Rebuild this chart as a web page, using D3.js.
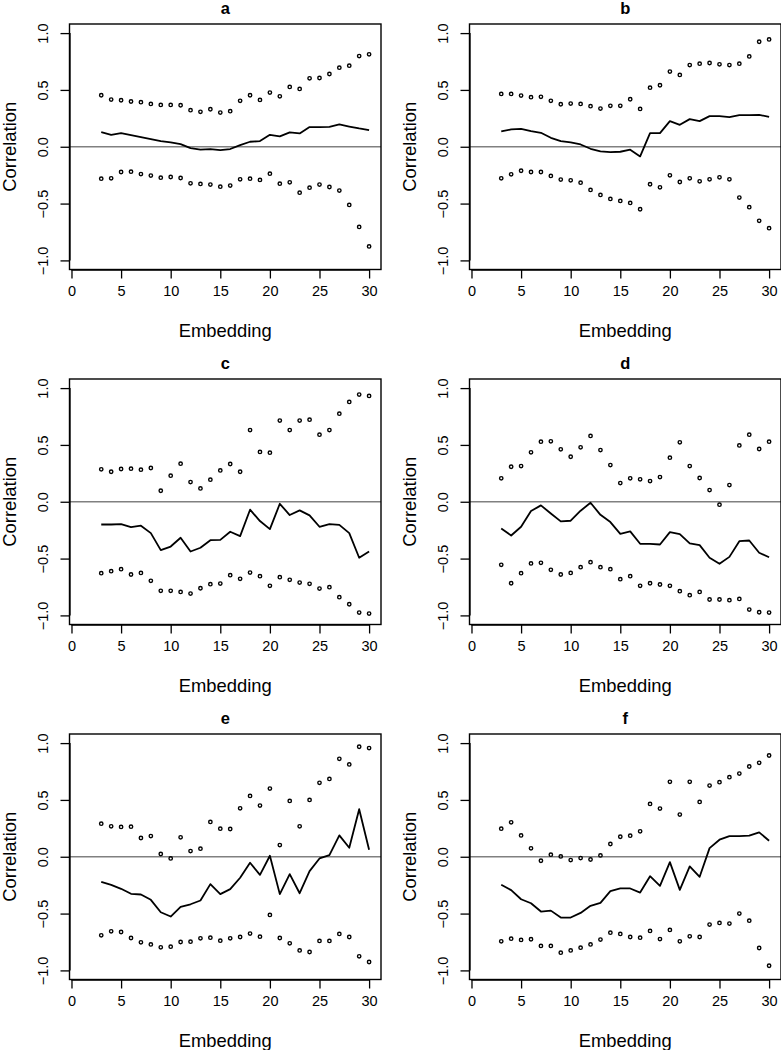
<!DOCTYPE html>
<html>
<head>
<meta charset="utf-8">
<script src="https://cdn.jsdelivr.net/npm/d3@7"></script>
<style>
  html, body { margin: 0; padding: 0; background: #fff; }
  svg { display: block; }
  text { font-family: "Liberation Sans", Arial, Helvetica, sans-serif; fill: #000; }
</style>
</head>
<body>
<svg id="chart" width="781" height="1050"></svg>
<script>
const embedding = [3,4,5,6,7,8,9,10,11,12,13,14,15,16,17,18,19,20,21,22,23,24,25,26,27,28,29,30];
const xTicks = [0,5,10,15,20,25,30];
const yTicks = [-1.0,-0.5,0.0,0.5,1.0];
const yTickLabels = ["\u22121.0","\u22120.5","0.0","0.5","1.0"];
const panelLabels = ["a","b","c","d","e","f"];

const aUpper = [0.453,0.415,0.409,0.398,0.392,0.377,0.368,0.368,0.365,0.322,0.307,0.330,0.301,0.313,0.404,0.453,0.412,0.477,0.444,0.526,0.509,0.602,0.605,0.640,0.696,0.713,0.798,0.813];
const aLower = [-0.281,-0.278,-0.222,-0.219,-0.240,-0.254,-0.272,-0.266,-0.275,-0.322,-0.327,-0.333,-0.351,-0.342,-0.287,-0.281,-0.292,-0.237,-0.325,-0.313,-0.404,-0.360,-0.333,-0.354,-0.386,-0.512,-0.705,-0.877];
const aCorr  = [0.129,0.105,0.120,0.102,0.085,0.067,0.050,0.038,0.023,-0.012,-0.026,-0.020,-0.029,-0.020,0.015,0.044,0.050,0.105,0.091,0.126,0.117,0.173,0.173,0.175,0.196,0.178,0.161,0.146];

const bUpper = [0.465,0.465,0.450,0.436,0.439,0.404,0.374,0.380,0.377,0.357,0.336,0.360,0.360,0.418,0.333,0.520,0.541,0.661,0.632,0.719,0.731,0.737,0.725,0.719,0.731,0.795,0.924,0.944];
const bLower = [-0.278,-0.243,-0.211,-0.222,-0.222,-0.257,-0.289,-0.295,-0.316,-0.380,-0.424,-0.459,-0.477,-0.494,-0.550,-0.330,-0.357,-0.251,-0.310,-0.278,-0.304,-0.287,-0.269,-0.287,-0.447,-0.532,-0.652,-0.716];
const bCorr  = [0.135,0.152,0.158,0.137,0.123,0.079,0.050,0.038,0.020,-0.018,-0.041,-0.047,-0.044,-0.026,-0.085,0.120,0.120,0.225,0.193,0.243,0.225,0.269,0.269,0.260,0.278,0.278,0.281,0.263];

const cUpper = [0.285,0.264,0.288,0.291,0.282,0.297,0.097,0.229,0.335,0.173,0.117,0.194,0.276,0.332,0.264,0.631,0.438,0.432,0.714,0.631,0.714,0.722,0.590,0.631,0.775,0.878,0.943,0.931];
const cLower = [-0.628,-0.611,-0.593,-0.640,-0.626,-0.696,-0.784,-0.784,-0.793,-0.808,-0.761,-0.725,-0.720,-0.646,-0.678,-0.623,-0.655,-0.740,-0.664,-0.687,-0.711,-0.722,-0.764,-0.752,-0.840,-0.902,-0.975,-0.984];
const cCorr  = [-0.200,-0.200,-0.197,-0.223,-0.211,-0.276,-0.426,-0.394,-0.317,-0.438,-0.405,-0.338,-0.335,-0.264,-0.302,-0.070,-0.170,-0.241,-0.018,-0.117,-0.076,-0.120,-0.220,-0.197,-0.203,-0.276,-0.493,-0.438];

const dUpper = [0.206,0.308,0.314,0.435,0.529,0.532,0.461,0.396,0.479,0.579,0.455,0.323,0.164,0.206,0.197,0.182,0.217,0.388,0.523,0.314,0.209,0.103,-0.026,0.147,0.496,0.590,0.464,0.529];
const dLower = [-0.555,-0.717,-0.628,-0.543,-0.537,-0.599,-0.640,-0.626,-0.576,-0.532,-0.576,-0.593,-0.681,-0.655,-0.740,-0.717,-0.728,-0.740,-0.787,-0.822,-0.793,-0.860,-0.860,-0.866,-0.855,-0.949,-0.972,-0.975];
const dCorr  = [-0.235,-0.297,-0.220,-0.082,-0.032,-0.103,-0.173,-0.167,-0.079,-0.009,-0.115,-0.179,-0.282,-0.261,-0.370,-0.370,-0.376,-0.267,-0.285,-0.367,-0.382,-0.493,-0.546,-0.485,-0.347,-0.341,-0.449,-0.488];

const eUpper = [0.291,0.268,0.262,0.265,0.165,0.182,0.024,-0.015,0.171,0.050,0.071,0.306,0.247,0.244,0.426,0.535,0.450,0.600,0.103,0.491,0.268,0.500,0.650,0.685,0.862,0.812,0.968,0.956];
const eLower = [-0.691,-0.656,-0.662,-0.715,-0.753,-0.771,-0.797,-0.791,-0.750,-0.747,-0.718,-0.712,-0.738,-0.718,-0.706,-0.676,-0.703,-0.512,-0.715,-0.762,-0.824,-0.838,-0.741,-0.741,-0.679,-0.706,-0.876,-0.926];
const eCorr  = [-0.221,-0.247,-0.282,-0.326,-0.332,-0.379,-0.488,-0.526,-0.441,-0.418,-0.385,-0.241,-0.329,-0.285,-0.185,-0.053,-0.159,0.009,-0.329,-0.153,-0.321,-0.126,-0.015,0.015,0.188,0.079,0.418,0.062];

const fUpper = [0.247,0.303,0.188,0.074,-0.035,0.018,0.003,-0.029,-0.012,-0.024,0.012,0.112,0.176,0.185,0.224,0.465,0.424,0.659,0.371,0.659,0.482,0.626,0.656,0.700,0.732,0.794,0.826,0.891];
const fLower = [-0.744,-0.721,-0.732,-0.726,-0.785,-0.785,-0.844,-0.824,-0.800,-0.771,-0.729,-0.668,-0.679,-0.706,-0.712,-0.653,-0.724,-0.644,-0.744,-0.700,-0.706,-0.597,-0.582,-0.588,-0.500,-0.562,-0.803,-0.959];
const fCorr  = [-0.247,-0.294,-0.374,-0.409,-0.482,-0.474,-0.535,-0.535,-0.494,-0.432,-0.406,-0.303,-0.279,-0.279,-0.315,-0.171,-0.256,-0.047,-0.291,-0.085,-0.176,0.076,0.150,0.182,0.182,0.185,0.215,0.141];

const panels = [
  {label: panelLabels[0], upper: aUpper, lower: aLower, corr: aCorr},
  {label: panelLabels[1], upper: bUpper, lower: bLower, corr: bCorr},
  {label: panelLabels[2], upper: cUpper, lower: cLower, corr: cCorr},
  {label: panelLabels[3], upper: dUpper, lower: dLower, corr: dCorr},
  {label: panelLabels[4], upper: eUpper, lower: eLower, corr: eCorr},
  {label: panelLabels[5], upper: fUpper, lower: fLower, corr: fCorr}
];

const svg = d3.select("#chart");
svg.append("rect").attr("width", 781).attr("height", 1050).attr("fill", "#fff");

const colW = 400, rowH = 355;
const boxL = 69.5, boxR = 381, boxT = 24, boxB = 269.5;
const fontFam = "Liberation Sans, Arial, sans-serif";

panels.forEach((p, i) => {
  const col = i % 2, row = Math.floor(i / 2);
  const g = svg.append("g").attr("transform", `translate(${col * colW},${row * rowH})`);

  const x = d3.scaleLinear().domain([-0.2, 31.2]).range([boxL, boxR]);
  const y = d3.scaleLinear().domain([-1.08, 1.08]).range([boxB, boxT]);

  // zero reference line
  g.append("line")
    .attr("x1", boxL).attr("x2", boxR)
    .attr("y1", y(0)).attr("y2", y(0))
    .attr("stroke", "#808080").attr("stroke-width", 1.6);

  // x axis
  const xAxis = d3.axisBottom(x).tickValues(xTicks).tickSize(9).tickPadding(7).tickFormat(d3.format("d"));
  const gx = g.append("g").attr("transform", `translate(0,${boxB})`).call(xAxis);
  gx.select(".domain").attr("d", `M${x(0)},0.5H${x(30)}`).attr("stroke", "#000").attr("stroke-width", 1.3);
  gx.selectAll(".tick line").attr("stroke", "#000").attr("stroke-width", 1.3);
  gx.selectAll(".tick text").attr("font-size", 14.5).attr("font-family", fontFam).attr("fill", "#222");

  // y axis
  const yAxis = d3.axisLeft(y).tickValues(yTicks).tickSize(9).tickFormat(d => yTickLabels[yTicks.indexOf(d)]);
  const gy = g.append("g").attr("transform", `translate(${boxL},0)`).call(yAxis);
  gy.select(".domain").attr("d", `M0.5,${y(-1)}V${y(1)}`).attr("stroke", "#000").attr("stroke-width", 1.3);
  gy.selectAll(".tick line").attr("stroke", "#000").attr("stroke-width", 1.3);
  gy.selectAll(".tick text")
    .attr("font-size", 14.5).attr("font-family", fontFam).attr("fill", "#222")
    .attr("x", null).attr("dy", null)
    .attr("text-anchor", "middle")
    .attr("dominant-baseline", "central")
    .attr("transform", `translate(${43 - boxL},0) rotate(-90)`);

  // box
  g.append("rect")
    .attr("x", boxL).attr("y", boxT)
    .attr("width", boxR - boxL).attr("height", boxB - boxT)
    .attr("fill", "none").attr("stroke", "#000").attr("stroke-width", 1.4);

  // correlation line
  const line = d3.line().x((d, j) => x(embedding[j])).y(d => y(d));
  g.append("path").datum(p.corr)
    .attr("d", line)
    .attr("fill", "none").attr("stroke", "#000").attr("stroke-width", 1.8)
    .attr("stroke-linejoin", "round");

  // bounds as open circles
  [p.upper, p.lower].forEach(arr => {
    g.selectAll(null).data(arr).enter().append("circle")
      .attr("cx", (d, j) => x(embedding[j]))
      .attr("cy", d => y(d))
      .attr("r", 1.7)
      .attr("fill", "none").attr("stroke", "#000").attr("stroke-width", 1.4);
  });

  // title
  g.append("text")
    .attr("x", (boxL + boxR) / 2).attr("y", 14)
    .attr("text-anchor", "middle")
    .attr("font-size", 16.5).attr("font-weight", "bold")
    .text(p.label);

  // x label
  g.append("text")
    .attr("x", (boxL + boxR) / 2).attr("y", 337)
    .attr("text-anchor", "middle")
    .attr("font-size", 18.4)
    .text("Embedding");

  // y label
  g.append("text")
    .attr("transform", `translate(9,${(boxT + boxB) / 2}) rotate(-90)`)
    .attr("text-anchor", "middle")
    .attr("dominant-baseline", "central")
    .attr("font-size", 18.4)
    .text("Correlation");
});
</script>
</body>
</html>
